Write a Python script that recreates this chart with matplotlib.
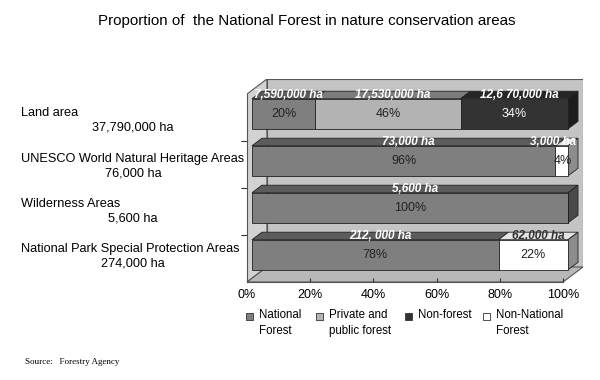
import numpy as np
import matplotlib.pyplot as plt
from matplotlib.patches import Polygon, Rectangle

plt.rcParams['font.family'] = ['Liberation Sans', 'DejaVu Sans']

categories = ['Land area', 'UNESCO World Natural Heritage Areas',
              'Wilderness Areas', 'National Park Special Protection Areas']
totals = ['37,790,000 ha', '76,000 ha', '5,600 ha', '274,000 ha']
series = ['National\nForest', 'Private and\npublic forest', 'Non-forest', 'Non-National\nForest']
national = [20, 96, 100, 78]
private = [46, 0, 0, 0]
nonforest = [34, 0, 0, 0]
nonnational = [0, 4, 0, 22]
area_labels = [['7,590,000 ha', '17,530,000 ha', '12,6 70,000 ha', ''],
               ['73,000 ha', '', '', '3,000 ha'],
               ['5,600 ha', '', '', ''],
               ['212, 000 ha', '', '', '62,000 ha']]
xticks = [0, 20, 40, 60, 80, 100]

# colours: front, top, side
front_c = ['#7f7f7f', '#b3b3b3', '#333333', '#ffffff']
top_c = ['#5c5c5c', '#7c7c7c', '#262626', '#e4e4e4']
side_c = ['#4a4a4a', '#6a6a6a', '#1c1c1c', '#8c8c8c']
pct_c = ['#222222', '#222222', 'white', '#222222']
ha_c = ['white', 'white', 'white', '#333333']

# 3d depth in data units
DX, DY = 6.3, 0.32
H = 0.64
ox, oy = 0.25 * DX, 0.25 * DY   # front face of bars
bx, by = 0.5 * DX, 0.5 * DY     # bar depth

fig = plt.figure(figsize=(6, 3.8), dpi=100)
ax = fig.add_axes([247 / 600, 1 - 282 / 380, 336 / 600, 203 / 380])
ax.set_xlim(0, 100 + DX)
ax.set_ylim(3.5, -0.5 - DY)

wall_kw = dict(ec='#555555', lw=0.8, zorder=0)
ax.add_patch(Polygon([(DX, -0.5 - DY), (100 + DX, -0.5 - DY), (100 + DX, 3.5 - DY), (DX, 3.5 - DY)],
                     fc='#c4c4c4', **wall_kw))
ax.add_patch(Polygon([(0, -0.5), (DX, -0.5 - DY), (DX, 3.5 - DY), (0, 3.5)], fc='#d2d2d2', **wall_kw))
ax.add_patch(Polygon([(0, 3.5), (100, 3.5), (100 + DX, 3.5 - DY), (DX, 3.5 - DY)], fc='#b8b8b8', **wall_kw))

data = np.array([national, private, nonforest, nonnational], dtype=float)
ypos = np.arange(len(categories))
lefts = np.zeros(len(categories))
for s in range(len(series)):
    vals = data[s]
    ax.barh(ypos - oy, vals, left=lefts + ox, height=H, color=front_c[s],
            edgecolor='#222222', lw=0.6, zorder=3, label=series[s])
    for i in range(len(categories)):
        if vals[i] <= 0:
            continue
        l, r = lefts[i] + ox, lefts[i] + vals[i] + ox
        yt = i - oy - H / 2
        yb = i - oy + H / 2
        ax.add_patch(Polygon([(l, yt), (r, yt), (r + bx, yt - by), (l + bx, yt - by)],
                             fc=top_c[s], ec='#222222', lw=0.6, zorder=2))
        if lefts[i] + vals[i] >= 100:
            ax.add_patch(Polygon([(r, yt), (r + bx, yt - by), (r + bx, yb - by), (r, yb)],
                                 fc=side_c[s], ec='#222222', lw=0.6, zorder=2))
        cx = (l + r) / 2
        ptxt = '%d%%' % vals[i]
        if vals[i] < 8:
            cx = r - 1.8
        ax.text(cx, i - oy, ptxt, ha='center', va='center', fontsize=9,
                color=pct_c[s], zorder=5)
        lab = area_labels[i][s]
        if lab:
            if vals[i] < 8:
                ax.text(r + bx - 0.5, yt - by / 2, lab, ha='right', va='center', fontsize=8.5,
                        fontweight='bold', style='italic', color='white', zorder=5)
            else:
                ax.text(cx + bx / 2, yt - by / 2, lab, ha='center', va='center', fontsize=8.5,
                        fontweight='bold', style='italic', color=ha_c[s], zorder=5)
    lefts += vals

for side in ['top', 'right']:
    ax.spines[side].set_visible(False)
ax.spines['bottom'].set_bounds(0, 100)
ax.spines['left'].set_bounds(3.5, -0.5)
ax.spines['bottom'].set_color('#555555')
ax.spines['left'].set_color('#555555')
ax.set_xticks(xticks)
ax.set_xticklabels(['%d%%' % t for t in xticks], fontsize=9)
ax.tick_params(axis='x', direction='in', length=3, pad=5, color='#333333')
ax.set_yticks([0.5, 1.5, 2.5])
ax.set_yticklabels([])
ax.tick_params(axis='y', direction='out', length=4, color='#333333')
ax.patch.set_visible(False)

# category labels on the left
label_y = [113, 159, 204, 249]
for i, cat in enumerate(categories):
    fig.text(21 / 600, 1 - label_y[i] / 380, cat, ha='left', va='center', fontsize=9.2)
    fig.text(133 / 600, 1 - (label_y[i] + 14.5) / 380, totals[i], ha='center', va='center', fontsize=9.2)

fig.text(307 / 600, 1 - 21 / 380, 'Proportion of  the National Forest in nature conservation areas',
         ha='center', va='center', fontsize=10.9)

# legend
leg_x = [250, 320, 409, 487]
for s in range(len(series)):
    fig.patches.append(Rectangle(((leg_x[s] - 4) / 600, 1 - 320 / 380), 7 / 600, 7 / 380,
                                 fc=front_c[s], ec='#333333', lw=0.6, transform=fig.transFigure))
    fig.text((leg_x[s] + 9) / 600, 1 - 309 / 380, series[s], ha='left', va='top',
             fontsize=8.3, linespacing=1.45)

fig.text(25 / 600, 1 - 362 / 380, 'Source:   Forestry Agency', family='Liberation Serif',
         fontsize=6.5, va='center')

fig.savefig('out.png', dpi=100)
